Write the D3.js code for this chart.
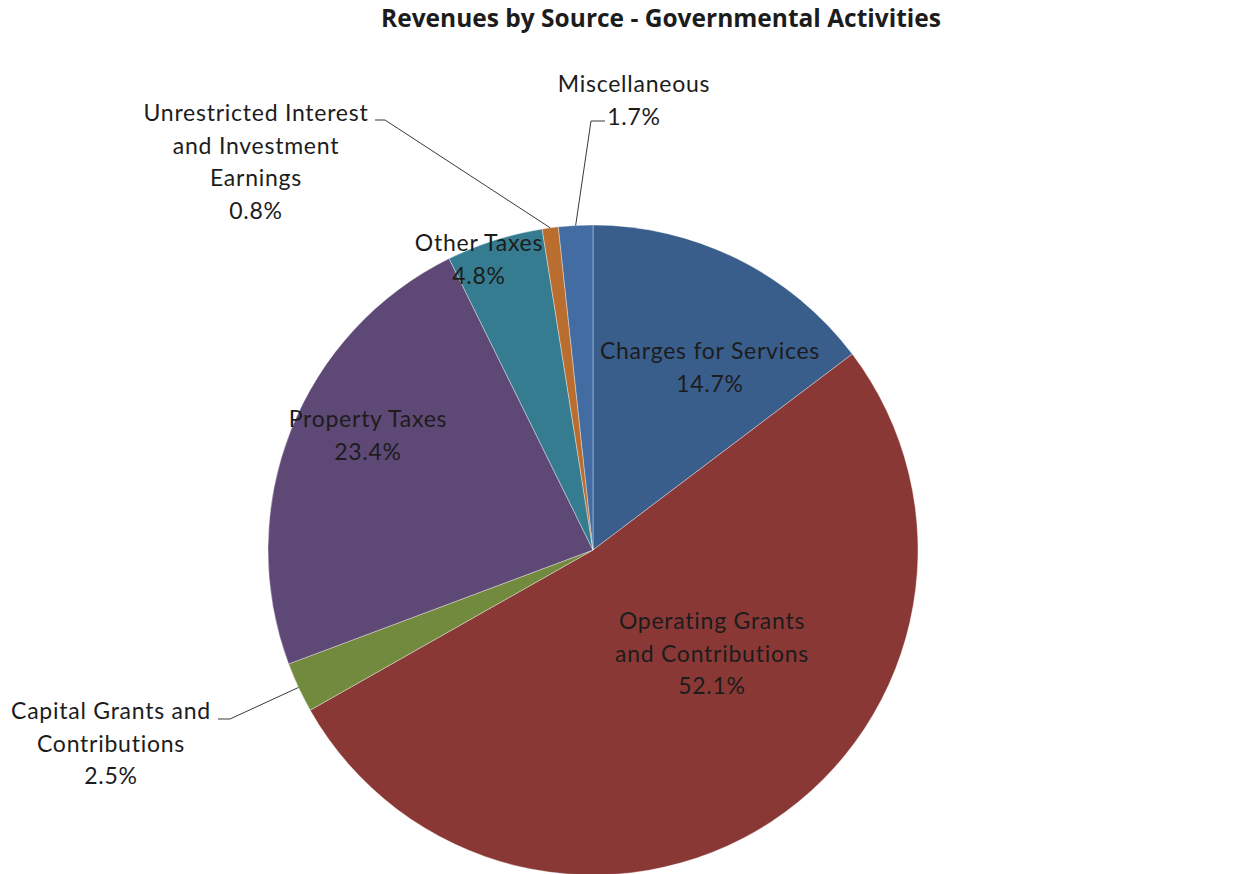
<!DOCTYPE html>
<html>
<head>
<meta charset="utf-8">
<script src="https://cdn.jsdelivr.net/npm/d3@7"></script>
<style>
  html, body { margin: 0; padding: 0; background: #fff; }
  svg { display: block; }
  text { font-family: Lato, "Open Sans", sans-serif; fill: #1c1c1c; }
</style>
</head>
<body>
<svg id="chart" width="1249" height="874"></svg>
<script>
// Revenue sources, in drawing order clockwise from 12 o'clock
const categories = [
  "Charges for Services",
  "Operating Grants and Contributions",
  "Capital Grants and Contributions",
  "Property Taxes",
  "Other Taxes",
  "Unrestricted Interest and Investment Earnings",
  "Miscellaneous"
];
const shares = [14.7, 52.1, 2.5, 23.4, 4.8, 0.8, 1.7];
const sliceColors = ["#3A5E8C", "#8A3835", "#718A3E", "#5E4876", "#357C90", "#B96D2E", "#426CA2"];

// Label line breaks per category
const labelLines = [
  ["Charges for Services"],
  ["Operating Grants", "and Contributions"],
  ["Capital Grants and", "Contributions"],
  ["Property Taxes"],
  ["Other Taxes"],
  ["Unrestricted Interest", "and Investment", "Earnings"],
  ["Miscellaneous"]
];

// Label placement: first-line baseline anchor, and optional leader elbow
const labelLayout = [
  { x: 710, y: 359 },
  { x: 712, y: 629 },
  { x: 111, y: 719, leader: [[218, 719], [230, 719]] },
  { x: 368, y: 427 },
  { x: 479, y: 251 },
  { x: 256, y: 121, leader: [[375, 120], [385, 120]] },
  { x: 634, y: 92, leader: [[605, 121], [591, 121]] }
];

const width = 1249, height = 874;
const cx = 593, cy = 550, radius = 325;
const lineHeight = 32.5;

const svg = d3.select("#chart");

svg.append("text")
  .attr("x", 661)
  .attr("y", 27)
  .attr("text-anchor", "middle")
  .style("font-family", "'Open Sans', Lato, sans-serif")
  .style("font-size", "24.5px")
  .style("font-weight", "bold")
  .text("Revenues by Source - Governmental Activities");

const data = categories.map((c, i) => ({ name: c, value: shares[i], i }));

const pie = d3.pie().sort(null).value(d => d.value);
const arcs = pie(data);

const arc = d3.arc().innerRadius(0).outerRadius(radius);
const edge = d3.arc().innerRadius(radius).outerRadius(radius);

const g = svg.append("g").attr("transform", `translate(${cx},${cy})`);

g.selectAll("path.slice")
  .data(arcs)
  .join("path")
  .attr("class", "slice")
  .attr("d", arc)
  .attr("fill", d => sliceColors[d.data.i])
  .attr("stroke", "rgba(255,255,255,0.45)")
  .attr("stroke-width", 0.8);

// Leader lines for the small outer slices
const leaderLine = d3.line();
arcs.forEach(a => {
  const L = labelLayout[a.data.i];
  if (!L.leader) return;
  const [ex, ey] = edge.centroid(a);
  const pts = L.leader.concat([[cx + ex, cy + ey]]);
  svg.append("path")
    .attr("d", leaderLine(pts))
    .attr("fill", "none")
    .attr("stroke", "#3a3a3a")
    .attr("stroke-width", 1);
});

// Category labels with percentage
const fmt = d3.format(".1f");
arcs.forEach(a => {
  const i = a.data.i;
  const L = labelLayout[i];
  const lines = labelLines[i].concat([fmt(a.data.value) + "%"]);
  const t = svg.append("text")
    .attr("text-anchor", "middle")
    .style("font-size", "23px")
    .style("letter-spacing", "0.75px");
  lines.forEach((s, k) => {
    t.append("tspan")
      .attr("x", L.x)
      .attr("y", L.y + k * lineHeight)
      .text(s);
  });
});
</script>
</body>
</html>
